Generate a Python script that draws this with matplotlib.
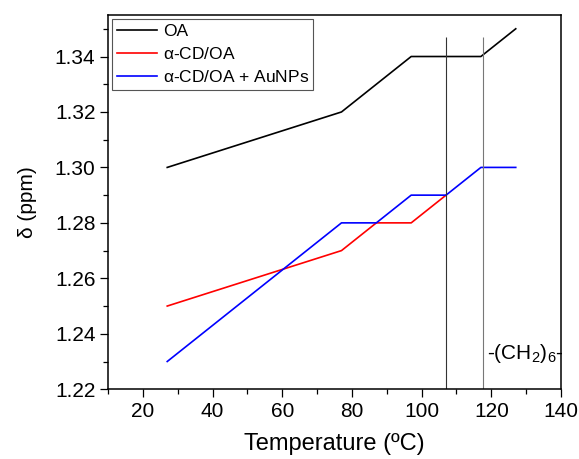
import matplotlib
matplotlib.use("Agg")
import matplotlib.pyplot as plt
from matplotlib.ticker import MultipleLocator

plt.rcParams['font.family'] = ['Liberation Sans', 'DejaVu Sans']
plt.rcParams['mathtext.default'] = 'regular'

# data (kink points of each curve)
oa_t = [27, 77, 97, 117, 127]
oa_d = [1.30, 1.32, 1.34, 1.34, 1.35]
cd_t = [27, 77, 87, 97, 107]
cd_d = [1.25, 1.27, 1.28, 1.28, 1.29]
au_t = [27, 77, 87, 97, 107, 117, 127]
au_d = [1.23, 1.28, 1.28, 1.29, 1.29, 1.30, 1.30]
labels = ['OA', r'$\alpha$-CD/OA', r'$\alpha$-CD/OA + AuNPs']
marker_t = [107, 117.6]

fig = plt.figure(figsize=(5.79, 4.59), dpi=100)
ax = fig.add_axes([0.1865, 0.152, 0.7825, 0.8155])

ax.plot(oa_t, oa_d, color='black', lw=1.2, label=labels[0])
ax.plot(cd_t, cd_d, color='#ff0000', lw=1.2, label=labels[1])
ax.plot(au_t, au_d, color='#0000ff', lw=1.2, label=labels[2])

# vertical marker lines
ax.vlines(marker_t[0], 1.22, 1.347, color='#333333', lw=0.8)
ax.vlines(marker_t[1], 1.22, 1.347, color='#777777', lw=0.8)

ax.text(140.7, 1.233, '-(CH$_2$)$_6$-', ha='right', va='center',
        fontsize=15, clip_on=False)

ax.set_xlim(10, 140)
ax.set_ylim(1.22, 1.355)
ax.xaxis.set_major_locator(MultipleLocator(20))
ax.xaxis.set_minor_locator(MultipleLocator(10))
ax.yaxis.set_major_locator(MultipleLocator(0.02))
ax.yaxis.set_minor_locator(MultipleLocator(0.01))
ax.set_xticks([20, 40, 60, 80, 100, 120, 140])
ax.set_yticks([1.22, 1.24, 1.26, 1.28, 1.30, 1.32, 1.34])
ax.set_yticklabels(['%.2f' % v for v in ax.get_yticks()])

ax.tick_params(which='major', direction='out', length=6, width=0.9,
               labelsize=15, pad=3)
ax.tick_params(which='minor', direction='out', length=3.5, width=0.9)
for s in ax.spines.values():
    s.set_linewidth(1.1)

ax.set_xlabel('Temperature (ºC)', fontsize=17, labelpad=9)
ax.set_ylabel('δ (ppm)', fontsize=15, labelpad=13)

leg = ax.legend(loc='upper left', fontsize=12.5, frameon=True, fancybox=False,
                edgecolor='#555555', framealpha=1, borderaxespad=0.25,
                handlelength=2.3, handletextpad=0.35, labelspacing=0.42,
                borderpad=0.25)
leg.get_frame().set_linewidth(0.8)

fig.savefig('out.png', dpi=100)
